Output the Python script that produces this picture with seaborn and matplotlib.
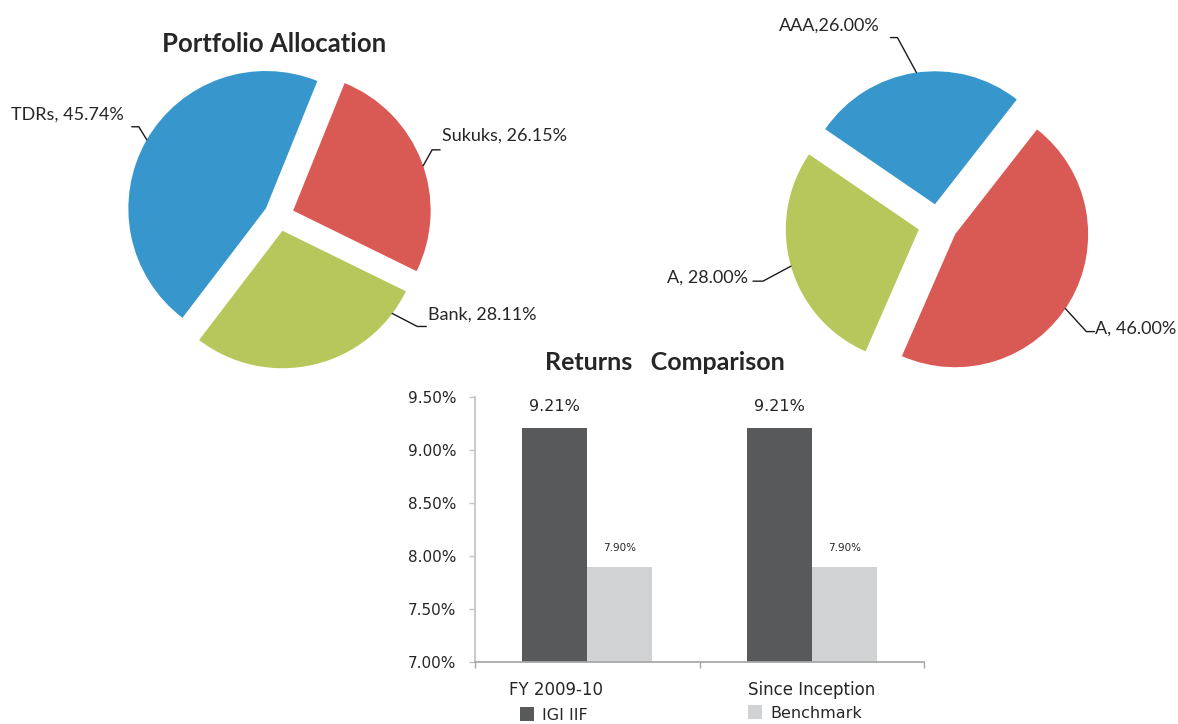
import numpy as np
import pandas as pd
import matplotlib
matplotlib.use('Agg')
import matplotlib.pyplot as plt
import seaborn as sns
from matplotlib.patches import Patch
from matplotlib.transforms import ScaledTranslation

# ---- data ----
alloc_labels = ['TDRs', 'Sukuks', 'Bank']
alloc_values = [45.74, 26.15, 28.11]
rating_labels = ['AAA', 'A', 'A']
rating_values = [26.00, 28.00, 46.00]
rating_seps = [',', ', ', ', ']
period_labels = ['FY 2009-10', 'Since Inception']
fund_returns = [9.21, 9.21]
bench_returns = [7.90, 7.90]
series_names = ['IGI IIF', 'Benchmark']
y_ticks = [7.0, 7.5, 8.0, 8.5, 9.0, 9.5]

BLUE, RED, GREEN = '#3797cd', '#d95a55', '#b8c75b'
DARK, LIGHT = '#58595b', '#d1d2d4'
TXT = '#262626'

sns.set_theme(style='white')
plt.rcParams['font.family'] = ['Lato', 'DejaVu Sans']

W, H = 1178, 724
fig = plt.figure(figsize=(W / 100, H / 100), dpi=100)


def px_axes(cx, cy, half):
    # square axes centred on pixel (cx, cy), y counted from the top
    return fig.add_axes([(cx - half) / W, (H - cy - half) / H, 2 * half / W, 2 * half / H])


def draw_pie(cx, cy, r_px, values, colors, explode, start, ccw):
    lim = 1.3
    ax = px_axes(cx, cy, lim * r_px)
    wedges, _ = ax.pie(values, colors=colors, explode=[explode] * len(values),
                       startangle=start, counterclock=ccw, radius=1,
                       wedgeprops=dict(linewidth=0))
    ax.set_xlim(-lim, lim)
    ax.set_ylim(-lim, lim)
    ax.set_aspect('equal')
    ax.axis('off')
    return wedges


def anchor_px(w, ang, cx, cy, r_px):
    # point on a wedge's arc, in figure pixels (y down)
    x = w.center[0] + w.r * np.cos(np.radians(ang))
    y = w.center[1] + w.r * np.sin(np.radians(ang))
    return cx + x * r_px, cy - y * r_px


# ---- pies ----
L_C, L_R = (279, 216), 137.5
R_C, R_R = (938, 224), 133

left_w = draw_pie(*L_C, L_R, alloc_values, [BLUE, RED, GREEN], 0.11,
                  68 + 3.6 * alloc_values[0], False)
right_w = draw_pie(*R_C, R_R, rating_values, [BLUE, GREEN, RED], 0.15, 52, True)

over = fig.add_axes([0, 0, 1, 1])
over.set_xlim(0, W)
over.set_ylim(H, 0)
over.axis('off')
over.patch.set_alpha(0)

# angle on arc, elbow offset, segment length, text offset from segment end
left_lay = [(150, (-8, -13), -7, (-8, -12)),
            (19, (9, -16), 8, (2, -14)),
            (-37, (25, 13), 9, (2, -12))]
right_lay = [(98, (-19, -35), -7, (-11, -12)),
             (196, (-28, 15), -10, (-5, -4)),
             (-34, (21, 23), 8, (1, -3))]

left_txt = [f'{l}, {v:.2f}%' for l, v in zip(alloc_labels, alloc_values)]
right_txt = [f'{l}{s}{v:.2f}%' for l, s, v in zip(rating_labels, rating_seps, rating_values)]

for wedges, lay, texts, (cx, cy), r in [(left_w, left_lay, left_txt, L_C, L_R),
                                         (right_w, right_lay, right_txt, R_C, R_R)]:
    for w, (ang, el, seg, toff), s in zip(wedges, lay, texts):
        ax0, ay0 = anchor_px(w, ang, cx, cy, r)
        ex, ey = ax0 + el[0], ay0 + el[1]
        fx = ex + seg
        over.plot([ax0, ex, fx], [ay0, ey, ey], color='#1a1a1a', lw=1.0,
                  solid_joinstyle='miter')
        ha = 'left' if seg > 0 else 'right'
        over.text(fx + toff[0], ey + toff[1], s, ha=ha, va='center',
                  fontsize=13, color=TXT)

over.text(274, 44, 'Portfolio Allocation', ha='center', va='center',
          fontsize=18.5, fontweight='bold', color=TXT)
over.text(665, 362, 'Returns   Comparison', ha='center', va='center',
          fontsize=18, fontweight='bold', color=TXT)

# ---- returns bar chart ----
df = pd.DataFrame({
    'period': period_labels * 2,
    'series': [series_names[0]] * len(period_labels) + [series_names[1]] * len(period_labels),
    'value': fund_returns + bench_returns,
})

axb = fig.add_axes([475 / W, (H - 662) / H, 449 / W, 265 / H])
sns.barplot(data=df, x='period', y='value', hue='series', palette=[DARK, LIGHT],
            width=0.58, saturation=1, errorbar=None, linewidth=0, legend=False, ax=axb)
axb.set_ylim(y_ticks[0], y_ticks[-1])
axb.set_xlim(-0.5, len(period_labels) - 0.5)
axb.set_yticks(y_ticks)
axb.set_yticklabels([f'{t:.2f}%' for t in y_ticks], family='DejaVu Sans',
                    fontsize=11, color=TXT)
axb.set_xticks(range(len(period_labels)))
axb.set_xticklabels(period_labels, family='DejaVu Sans', fontsize=12, color=TXT)
axb.set_xticks(np.arange(-0.5, len(period_labels)), minor=True)
axb.set_xlabel('')
axb.set_ylabel('')
for side in ['top', 'right']:
    axb.spines[side].set_visible(False)
axb.spines['left'].set_color('#c4c4c4')
axb.spines['bottom'].set_color('#a6a6a6')
axb.tick_params(axis='y', left=True, length=4.5, width=1, color='#c4c4c4', pad=9)
axb.tick_params(axis='x', which='major', bottom=True, length=0, pad=14)
axb.tick_params(axis='x', which='minor', bottom=True, length=4.5, width=1, color='#a6a6a6')
axb.grid(False)

# first category label sits left of its group centre
lab0 = axb.get_xticklabels()[0]
lab0.set_transform(lab0.get_transform() + ScaledTranslation(-31 / 100, 0, fig.dpi_scale_trans))

axb.bar_label(axb.containers[0], fmt='{:.2f}%', padding=10, fontsize=11.5,
              family='DejaVu Sans', color=TXT)
axb.bar_label(axb.containers[1], fmt='{:.2f}%', padding=10, fontsize=7.5,
              family='DejaVu Sans', color=TXT)

for name, col, (lx, ly) in zip(series_names, [DARK, LIGHT], [(520, 715), (748, 713)]):
    fig.legend(handles=[Patch(facecolor=col, edgecolor='none', label=name)],
               loc='center left', bbox_to_anchor=(lx / W, 1 - ly / H),
               frameon=False, borderpad=0, borderaxespad=0, handlelength=0.9,
               handleheight=0.9, handletextpad=0.5,
               prop={'family': 'DejaVu Sans', 'size': 11.5}, labelcolor=TXT)

fig.savefig('out.png', dpi=100)
